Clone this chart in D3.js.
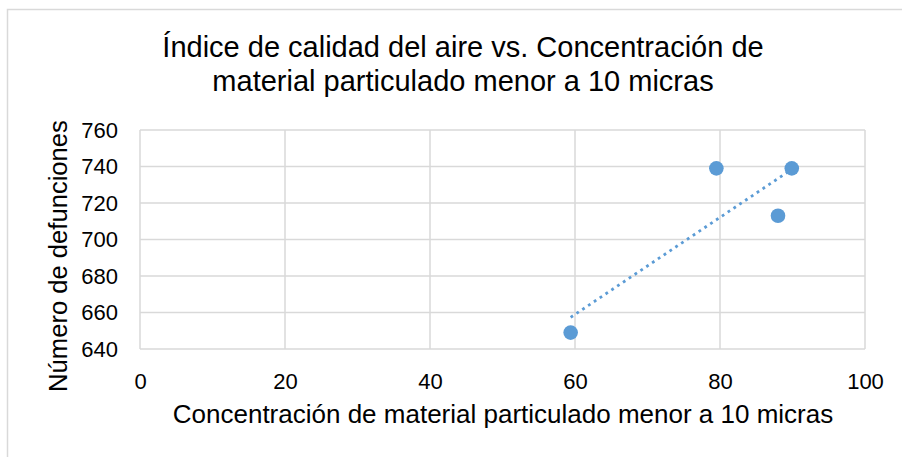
<!DOCTYPE html>
<html>
<head>
<meta charset="utf-8">
<script src="https://cdn.jsdelivr.net/npm/d3@7"></script>
<style>
  body { margin: 0; background: #fff; }
  svg { font-family: "Liberation Sans", Arial, sans-serif; }
</style>
</head>
<body>
<svg id="drawing_region"></svg>
<script>
// datos
const concentracion = [59.4, 79.5, 88.0, 89.9];
const defunciones = [649, 739, 713, 739];
const xTicks = [0, 20, 40, 60, 80, 100];
const yTicks = [640, 660, 680, 700, 720, 740, 760];
const titleLines = ["Índice de calidad del aire vs. Concentración de", "material particulado menor a 10 micras"];
const xTitle = "Concentración de material particulado menor a 10 micras";
const yTitle = "Número de defunciones";

const width = 902, height = 457;
const margin = { left: 140, right: 37, top: 130, bottom: 108 };
const blue = "#5b9bd5";

const svg = d3.select('#drawing_region')
    .attr('width', width)
    .attr('height', height);

// marco del grafico
svg.append('rect')
    .attr('x', 7.5).attr('y', 9.5)
    .attr('width', width).attr('height', height)
    .attr('fill', 'none')
    .attr('stroke', '#d9d9d9')
    .attr('stroke-width', 1.5);

const x = d3.scaleLinear().domain([0, 100]).range([margin.left, width - margin.right]);
const y = d3.scaleLinear().domain([640, 760]).range([height - margin.bottom, margin.top]);

// grid
svg.append('g')
    .selectAll('line.vg')
    .data(xTicks)
    .enter()
    .append('line')
    .attr('x1', d => x(d)).attr('x2', d => x(d))
    .attr('y1', y(760)).attr('y2', y(640))
    .attr('stroke', '#d9d9d9').attr('stroke-width', 1.5);

svg.append('g')
    .selectAll('line.hg')
    .data(yTicks)
    .enter()
    .append('line')
    .attr('x1', x(0)).attr('x2', x(100))
    .attr('y1', d => y(d)).attr('y2', d => y(d))
    .attr('stroke', '#d9d9d9').attr('stroke-width', 1.5);

// ejes (solo etiquetas)
const xAxis = svg.append('g')
    .attr('transform', `translate(0,${y(640)})`)
    .call(d3.axisBottom(x).tickValues(xTicks).tickSize(0).tickPadding(24));
const yAxis = svg.append('g')
    .attr('transform', `translate(${x(0)},0)`)
    .call(d3.axisLeft(y).tickValues(yTicks).tickSize(0).tickPadding(22));
[xAxis, yAxis].forEach(a => {
    a.select('.domain').remove();
    a.selectAll('text')
        .attr('font-family', '"Liberation Sans", Arial, sans-serif')
        .attr('font-size', 22)
        .attr('fill', '#000');
});

// linea de tendencia (regresion lineal)
const mx = d3.mean(concentracion), my = d3.mean(defunciones);
const sxy = d3.sum(concentracion, (c, i) => (c - mx) * (defunciones[i] - my));
const sxx = d3.sum(concentracion, c => (c - mx) * (c - mx));
const slope = sxy / sxx, icpt = my - slope * mx;
const [x0, x1] = d3.extent(concentracion);

svg.append('line')
    .attr('x1', x(x0)).attr('y1', y(icpt + slope * x0))
    .attr('x2', x(x1)).attr('y2', y(icpt + slope * x1))
    .attr('stroke', blue)
    .attr('stroke-width', 2.8)
    .attr('stroke-dasharray', '2.8,4.2');

// puntos
svg.append('g')
    .selectAll('circle')
    .data(concentracion)
    .enter()
    .append('circle')
    .attr('cx', d => x(d))
    .attr('cy', (d, i) => y(defunciones[i]))
    .attr('r', 7.3)
    .attr('fill', blue);

// titulos
svg.append('text')
    .attr('x', 463).attr('y', 57)
    .attr('text-anchor', 'middle')
    .attr('font-size', 29)
    .selectAll('tspan')
    .data(titleLines)
    .enter()
    .append('tspan')
    .attr('x', 463)
    .attr('dy', (d, i) => i === 0 ? 0 : 34)
    .text(d => d);

svg.append('text')
    .attr('x', 503).attr('y', 423)
    .attr('text-anchor', 'middle')
    .attr('font-size', 26)
    .text(xTitle);

svg.append('text')
    .attr('transform', `translate(67,256) rotate(-90)`)
    .attr('text-anchor', 'middle')
    .attr('font-size', 25.6)
    .text(yTitle);
</script>
</body>
</html>
